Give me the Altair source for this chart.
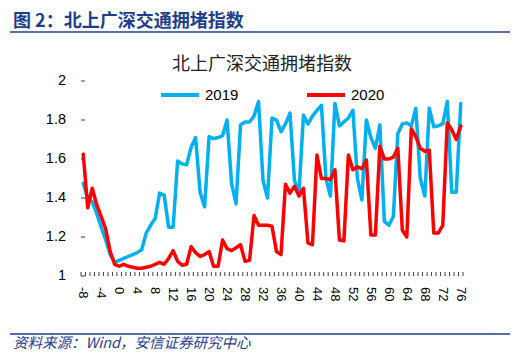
import altair as alt
import pandas as pd

days = list(range(-8, 77))
series = ["2019", "2020"]
colors = ["#00B0F0", "#FF0000"]

v2019 = [
    1.475, 1.40, 1.38, 1.32, 1.25, 1.185, 1.11, 1.07,          # -8..-1
    1.08, 1.09, 1.10, 1.11, 1.12, 1.135, 1.22, 1.26,            # 0..7
    1.295, 1.425, 1.415, 1.25, 1.25, 1.59, 1.575, 1.57,         # 8..15
    1.66, 1.71, 1.43, 1.355, 1.715, 1.705, 1.71, 1.72,          # 16..23
    1.80, 1.475, 1.37, 1.775, 1.79, 1.79, 1.82, 1.895,          # 24..31
    1.49, 1.40, 1.81, 1.80, 1.74, 1.78, 1.835, 1.49,            # 32..39
    1.425, 1.825, 1.78, 1.82, 1.85, 1.875, 1.50, 1.41,          # 40..47
    1.885, 1.77, 1.79, 1.81, 1.85, 1.50, 1.39, 1.80,            # 48..55
    1.71, 1.655, 1.775, 1.28, 1.26, 1.305, 1.73, 1.78,          # 56..63
    1.785, 1.77, 1.86, 1.50, 1.41, 1.86, 1.765, 1.77,           # 64..71
    1.78, 1.895, 1.43, 1.43, 1.885,                             # 72..76
]
v2020 = [
    1.625, 1.35, 1.45, 1.365, 1.305, 1.24, 1.125, 1.06,         # -8..-1
    1.05, 1.06, 1.05, 1.045, 1.04, 1.04, 1.045, 1.05,           # 0..7
    1.06, 1.07, 1.06, 1.09, 1.13, 1.075, 1.055, 1.06,           # 8..15
    1.15, 1.12, 1.10, 1.11, 1.125, 1.05, 1.05, 1.185,           # 16..23
    1.14, 1.13, 1.145, 1.16, 1.075, 1.08, 1.31, 1.26,           # 24..31
    1.26, 1.26, 1.255, 1.125, 1.11, 1.47, 1.425, 1.46,          # 32..39
    1.41, 1.45, 1.17, 1.16, 1.62, 1.50, 1.50, 1.495,            # 40..47
    1.545, 1.185, 1.18, 1.62, 1.545, 1.56, 1.55, 1.595,         # 48..55
    1.21, 1.21, 1.665, 1.60, 1.60, 1.61, 1.655, 1.235,          # 56..63
    1.20, 1.755, 1.715, 1.655, 1.64, 1.645, 1.22, 1.22,         # 64..71
    1.26, 1.785, 1.75, 1.70, 1.77,                              # 72..76
]

y_ticks = [1.0, 1.2, 1.4, 1.6, 1.8, 2.0]
y_tick_labels = ["1", "1.2", "1.4", "1.6", "1.8", "2"]
x_labels = list(range(-8, 77, 4))
header_text = "图 2：北上广深交通拥堵指数"
title_text = "北上广深交通拥堵指数"
source_text = "资料来源：Wind，安信证券研究中心"

W, H = 382, 195
AXIS = "#404040"
NAVY = "#1F3E8C"
CJK = "Noto Sans CJK SC"
LAT = "Arial"

df = pd.DataFrame({
    "day": days + days,
    "value": v2019 + v2020,
    "year": [series[0]] * len(days) + [series[1]] * len(days),
})
bounds = pd.DataFrame({"b": [d - 0.5 for d in days] + [days[-1] + 0.5]})
yt = pd.DataFrame({"t": y_ticks, "s": y_tick_labels})
xl = pd.DataFrame({"v": x_labels, "s": [str(v) for v in x_labels]})

xscale = alt.Scale(domain=[days[0] - 0.5, days[-1] + 0.5], nice=False, zero=False)
yscale = alt.Scale(domain=[1, 2], nice=False, zero=False)

lines = alt.Chart(df).mark_line(strokeWidth=3.5, strokeJoin="round", strokeCap="round").encode(
    x=alt.X("day:Q", scale=xscale,
            axis=alt.Axis(labels=False, ticks=False, grid=False, title=None, domainColor=AXIS)),
    y=alt.Y("value:Q", scale=yscale,
            axis=alt.Axis(labels=False, ticks=False, grid=False, title=None, domainColor=AXIS)),
    color=alt.Color("year:N", scale=alt.Scale(domain=series, range=colors),
                    legend=alt.Legend(title=None, orient="none", legendX=78, legendY=-7,
                                      direction="horizontal", symbolType="stroke",
                                      symbolStrokeWidth=4, symbolSize=1444,
                                      labelFontSize=15, labelFont=LAT, labelColor="black",
                                      columnPadding=60, labelOffset=4)),
)

xticks = alt.Chart(bounds).mark_rule(color=AXIS, strokeWidth=1).encode(
    x=alt.X("b:Q", scale=xscale, axis=None),
    y=alt.value(H - 4), y2=alt.value(H),
)
yticks = alt.Chart(yt).mark_rule(color=AXIS, strokeWidth=1).encode(
    y=alt.Y("t:Q", scale=yscale, axis=None),
    x=alt.value(0), x2=alt.value(4),
)
xlabels = alt.Chart(xl).mark_text(angle=90, align="left", baseline="middle", fontSize=13,
                                  font=LAT, color="black").encode(
    x=alt.X("v:Q", scale=xscale, axis=None),
    y=alt.value(H + 11),
    text="s:N",
)
ylabels = alt.Chart(yt).mark_text(align="right", baseline="middle", fontSize=14.5,
                                  font=LAT, color="black").encode(
    y=alt.Y("t:Q", scale=yscale, axis=None),
    x=alt.value(-15),
    text="s:N",
)

one = alt.Data(values=[{}])
header = alt.Chart(one).mark_text(text=header_text, align="left", baseline="middle", fontSize=18,
                                  fontWeight="bold", color=NAVY, font=CJK).encode(
    x=alt.value(-68), y=alt.value(-59.5))
header_rule = alt.Chart(one).mark_rule(color=NAVY, strokeWidth=1.5).encode(
    x=alt.value(-71), x2=alt.value(429), y=alt.value(-49))
title = alt.Chart(one).mark_text(text=title_text, align="center", baseline="middle", fontSize=18,
                                 color="#222222", font=CJK).encode(
    x=alt.value(181), y=alt.value(-16))
foot_rule = alt.Chart(one).mark_rule(color=NAVY, strokeWidth=1.5).encode(
    x=alt.value(-71), x2=alt.value(429), y=alt.value(253))
footer = alt.Chart(one).mark_text(text=source_text, align="left", baseline="middle", fontSize=14.5,
                                  fontStyle="italic", color=NAVY, font=CJK).encode(
    x=alt.value(-68), y=alt.value(263))

chart = alt.layer(lines, xticks, yticks, xlabels, ylabels, header, header_rule, title,
                  foot_rule, footer).properties(
    width=W, height=H,
    autosize=alt.AutoSizeParams(type="none"),
    padding={"left": 73, "top": 73, "right": 49, "bottom": 75},
    background="white",
).configure_view(stroke=None)

chart.save("out.html", embed_options={"renderer": "svg", "actions": False})
